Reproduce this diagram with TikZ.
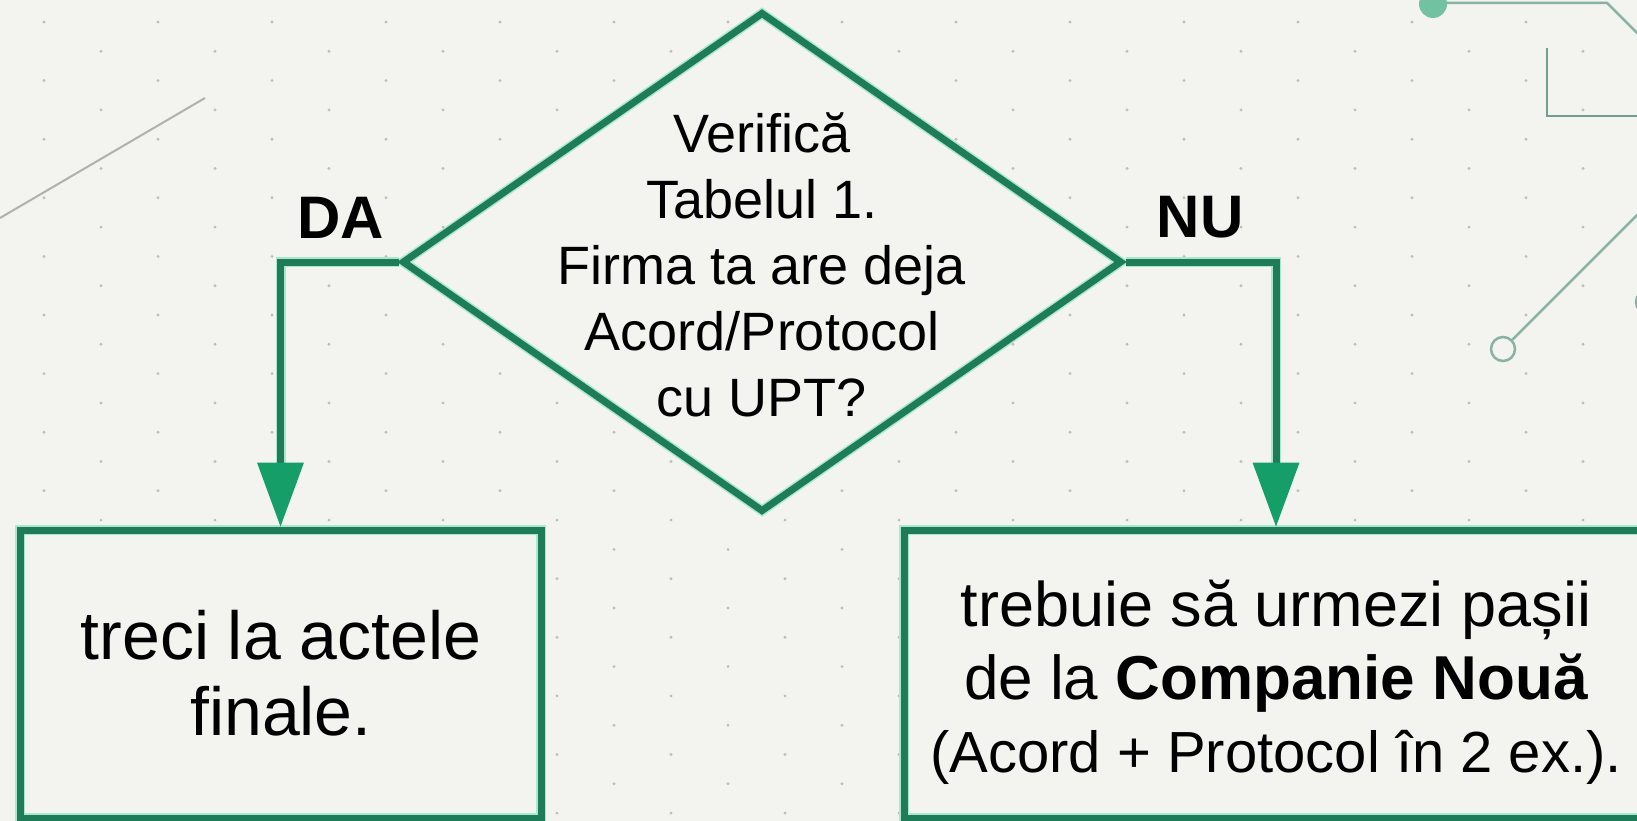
\documentclass[tikz,border=0pt]{standalone}
\usepackage{fontspec}
\setmainfont{Liberation Sans}
\usetikzlibrary{shapes.geometric,arrows.meta}
\definecolor{bg}{HTML}{F3F3EF}
\definecolor{dgreen}{HTML}{1F7C59}
\definecolor{agreen}{HTML}{169E69}
\definecolor{halo}{HTML}{A9E8CF}
\definecolor{dotc}{HTML}{BDBDBA}
\definecolor{deco}{HTML}{86B3A2}
\definecolor{decodark}{HTML}{739F8E}
\definecolor{decofill}{HTML}{72C2A2}
\definecolor{decoline}{HTML}{B0B0AD}
\tikzset{
  flow/.style={fill=bg, draw=halo, line width=10pt, outer sep=3.5pt, inner sep=0pt,
    postaction={draw=dgreen, line width=7pt}},
  boxtxt/.style={font=\fontsize{62}{75}\selectfont, align=center, inner sep=0pt},
  diatxt/.style={font=\fontsize{54}{66}\selectfont, align=center, inner sep=0pt},
  lab/.style={font=\fontsize{60}{70}\selectfont\bfseries, inner sep=0pt},
  haloconn/.style={draw=halo, line width=10pt, shorten >=40pt},
  conn/.style={draw=dgreen, line width=7pt,
    -{Triangle[length=64pt,width=47pt,color=agreen,line width=0pt]}},
  deco/.style={draw=deco, line width=2.5pt},
}
\begin{document}
\begin{tikzpicture}[x=1pt,y=-1pt]
\fill[bg] (0,0) rectangle (1637,821);
\useasboundingbox (0,0) rectangle (1637,821);
% dot grid
\foreach \j in {0,...,27}{
  \foreach \i in {0,...,14}{
    \pgfmathsetmacro\dx{44+114*\i+57*mod(\j,2)}
    \pgfmathsetmacro\dy{22+29.3*\j}
    \fill[dotc] (\dx,\dy) circle[radius=1.6];
  }
}
% left decorative line
\coordinate (ll1) at (0,218);
\coordinate (ll2) at (205,98);
\draw[decoline, line width=2pt] (ll1) -- (ll2);
% right decorations
\coordinate (tl0) at (1433,3);
\coordinate (tl1) at (1607,3);
\coordinate (tl2) at (1655,51);
\draw[deco] (tl0) -- (tl1) -- (tl2);
\node[circle, fill=decofill, minimum size=28pt, inner sep=0pt] (fc) at (1433,4) {};
\coordinate (l1) at (1547,48);
\coordinate (l2) at (1547,116);
\coordinate (l3) at (1645,116);
\draw[deco, draw=decodark] (l1) -- (l2) -- (l3);
\node[circle, deco, fill=bg, minimum size=24pt, inner sep=0pt] (oc) at (1503,349) {};
\coordinate (oce) at (1650,202);
\draw[deco] (oc) -- (oce);
\node[circle, deco, minimum size=24pt, inner sep=0pt] (ec) at (1648,302) {};
% flowchart
\node[diamond, flow, minimum width=720pt, minimum height=500pt] (dia) at (762,262) {};
\node[diatxt] (dtxt) at (762,265) {Verifică\\Tabelul 1.\\Firma ta are deja\\Acord/Protocol\\cu UPT?};
\node[rectangle, flow, minimum width=521pt, minimum height=288pt] (lbox) at (280.5,674) {};
\node[boxtxt, font=\fontsize{68}{76}\selectfont] (ltxt) at (281,673) {treci la actele\\finale.};
\node[rectangle, flow, minimum width=744pt, minimum height=288pt] (rbox) at (1276,674) {};
\node[boxtxt, font=\fontsize{62}{73}\selectfont] (rtxt) at (1276,682) {\fontsize{63}{73}\selectfont trebuie să urmezi pașii\\de la \textbf{Companie Nouă}\\\fontsize{58}{73}\selectfont (Acord + Protocol în 2 ex.).};
\node[lab] (da) at (341,217.5) {DA};
\node[lab] (nu) at (1200,217.5) {NU};
\draw[haloconn] (dia.west) -| (lbox.north);
\draw[conn] (dia.west) -| (lbox.north);
\draw[haloconn] (dia.east) -| (rbox.north);
\draw[conn] (dia.east) -| (rbox.north);
\end{tikzpicture}
\end{document}
